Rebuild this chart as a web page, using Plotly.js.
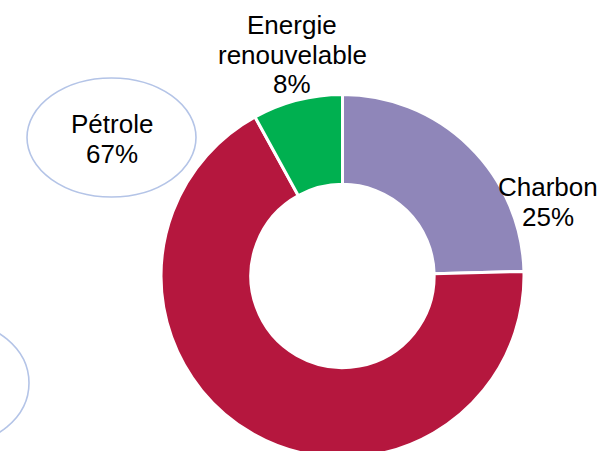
<!DOCTYPE html>
<html>
<head>
<meta charset="utf-8">
<script src="https://cdn.plot.ly/plotly-3.0.1.min.js"></script>
<style>
html,body{margin:0;padding:0;overflow:hidden;background:#fff;width:603px;height:451px;}
#chart{width:603px;height:470px;}
</style>
</head>
<body>
<div id="chart"></div>
<script>
// Data
const labels = ['Charbon', 'Pétrole', 'Energie renouvelable'];
const values = [24.6, 67.4, 8.0];
const colors = ['#8F86B9', '#B5173E', '#00B050'];

// Layout helpers (pixel -> paper)
const W = 603, H = 470;
const px = x => x / W;
const py = y => 1 - y / H;

const cx = 342.5, cy = 276, R = 181.5;

// label line positions (pixel centers), one entry per slice
const labelPos = [
  {x: 547.5, y: [187, 217]},
  {x: 111.5, y: [124, 154]},
  {x: 292, y: [25, 55, 84]}
];

const total = values.reduce((a, b) => a + b, 0);
const annotations = [];
labels.forEach((lab, i) => {
  const lines = lab.split(' ').concat([Math.round(values[i] / total * 100) + '%']);
  lines.forEach((t, j) => {
    annotations.push({
      text: t, showarrow: false, xref: 'paper', yref: 'paper',
      x: px(labelPos[i].x), y: py(labelPos[i].y[j]),
      xanchor: 'center', yanchor: 'middle',
      font: {family: 'Liberation Sans, Arial, sans-serif', size: 26, color: '#000'}
    });
  });
});

const data = [{
  type: 'pie',
  labels: labels,
  values: values,
  sort: false,
  direction: 'clockwise',
  rotation: 0,
  hole: 0.505,
  textinfo: 'none',
  hoverinfo: 'label+percent',
  marker: {colors: colors, line: {color: '#ffffff', width: 3}},
  domain: {x: [px(cx - R), px(cx + R)], y: [py(cy + R), py(cy - R)]}
}];

const layout = {
  width: W, height: H,
  margin: {l: 0, r: 0, t: 0, b: 0},
  paper_bgcolor: '#ffffff',
  showlegend: false,
  annotations: annotations,
  shapes: [
    {type: 'circle', xref: 'paper', yref: 'paper',
     x0: px(27), x1: px(196), y0: py(197), y1: py(78),
     line: {color: '#B4C4E7', width: 1.6}, layer: 'below'},
    {type: 'circle', xref: 'paper', yref: 'paper',
     x0: px(-121), x1: px(29), y0: py(445), y1: py(321),
     line: {color: '#B4C4E7', width: 1.6}, layer: 'below'}
  ]
};

Plotly.newPlot('chart', data, layout, {displayModeBar: false, staticPlot: true});
</script>
</body>
</html>
